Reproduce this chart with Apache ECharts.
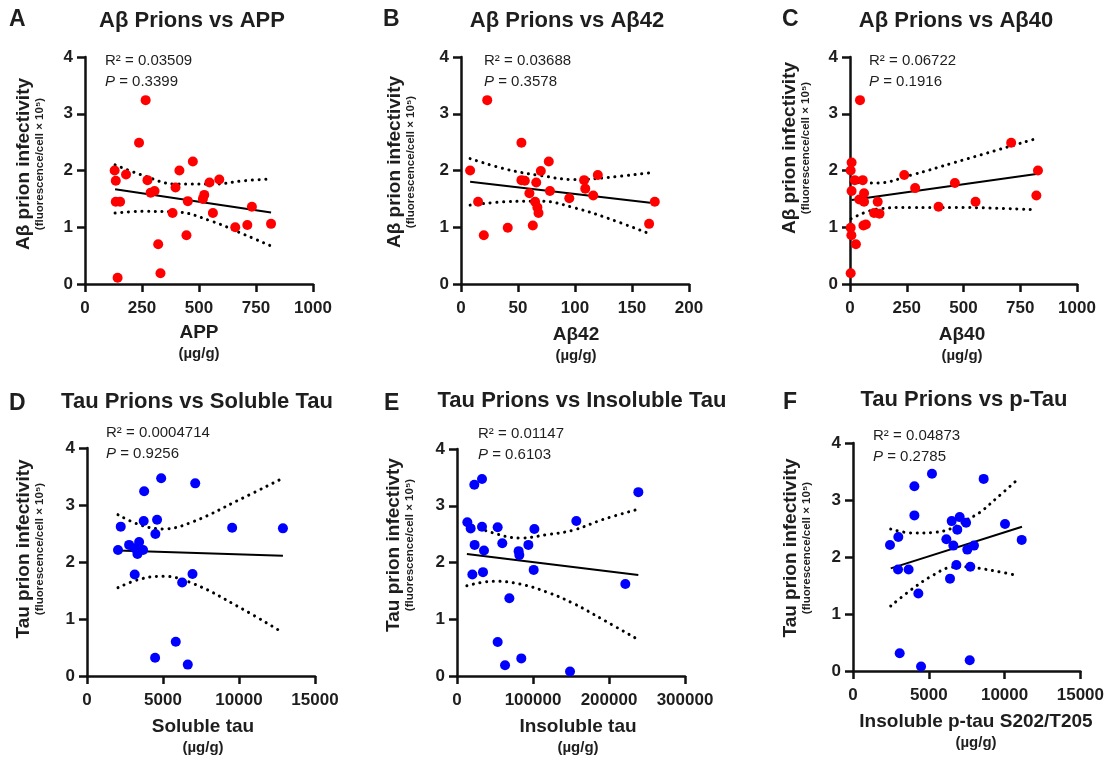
<!DOCTYPE html>
<html>
<head>
<meta charset="utf-8">
<title>Prion infectivity correlations</title>
<script src="https://cdn.jsdelivr.net/npm/echarts@6/dist/echarts.min.js"></script>
<style>
  html, body { margin: 0; padding: 0; background: #fff; }
  #chart { width: 1107px; height: 759px; }
</style>
</head>
<body>
<div id="chart"></div>
<script>
// A: Aβ prions vs APP
const appX = [266, 237, 130, 135, 180, 274, 288, 305, 414, 473, 397, 135, 154, 384, 451, 517, 523, 546, 589, 561, 659, 712, 732, 816, 445, 321, 331, 143];
const appY = [3.24, 2.49, 2.00, 1.82, 1.93, 1.83, 1.61, 1.64, 2.00, 2.16, 1.70, 1.45, 1.45, 1.25, 1.46, 1.50, 1.57, 1.79, 1.84, 1.25, 1.00, 1.04, 1.36, 1.06, 0.86, 0.70, 0.19, 0.11];
const appFitX = [132, 816];
const appFitY = [1.67, 1.26];
const appCiX = [132, 250, 400, 560, 700, 810];
const appCiUp = [2.10, 1.92, 1.76, 1.76, 1.82, 1.85];
const appCiLo = [1.25, 1.28, 1.27, 1.10, 0.87, 0.68];

// B: Aβ prions vs Aβ42
const ab42X = [23, 53, 8, 77, 70, 53, 56, 66, 60, 78, 108, 109, 120, 116, 95, 15, 65, 67, 68, 63, 41, 20, 165, 170];
const ab42Y = [3.24, 2.49, 2.00, 2.16, 1.99, 1.83, 1.82, 1.79, 1.60, 1.64, 1.83, 1.68, 1.92, 1.56, 1.51, 1.45, 1.45, 1.35, 1.25, 1.03, 0.99, 0.86, 1.06, 1.45];
const ab42FitX = [8, 166];
const ab42FitY = [1.80, 1.43];
const ab42CiX = [8, 40, 70, 100, 130, 166];
const ab42CiUp = [2.21, 2.02, 1.91, 1.84, 1.88, 1.96];
const ab42CiLo = [1.39, 1.45, 1.46, 1.34, 1.15, 0.88];

// C: Aβ prions vs Aβ40
const ab40X = [44, 710, 7, 3, 828, 21, 56, 239, 287, 462, 7, 62, 41, 62, 122, 553, 390, 821, 106, 130, 59, 70, 3, 6, 26, 3];
const ab40Y = [3.24, 2.49, 2.14, 2.00, 2.00, 1.83, 1.83, 1.92, 1.69, 1.78, 1.64, 1.60, 1.49, 1.45, 1.45, 1.45, 1.36, 1.56, 1.25, 1.24, 1.03, 1.05, 0.99, 0.86, 0.70, 0.19];
const ab40FitX = [7, 821];
const ab40FitY = [1.48, 1.94];
const ab40CiX = [5, 120, 270, 460, 810];
const ab40CiUp = [1.79, 1.78, 1.92, 2.14, 2.55];
const ab40CiLo = [1.15, 1.32, 1.35, 1.35, 1.31];

// D: Tau prions vs soluble tau
const solTauX = [4880, 7120, 3760, 3730, 4610, 4500, 2220, 9550, 12890, 2770, 3430, 2040, 3140, 3320, 3690, 3140, 6940, 6260, 5840, 4480, 6630];
const solTauY = [3.47, 3.38, 3.24, 2.72, 2.74, 2.49, 2.62, 2.60, 2.59, 2.30, 2.35, 2.21, 2.24, 2.14, 2.21, 1.78, 1.79, 1.64, 0.60, 0.32, 0.20];
const solTauFitX = [2040, 12890];
const solTauFitY = [2.20, 2.11];
const solTauCiX = [2040, 3500, 5000, 7000, 10000, 12890];
const solTauCiUp = [2.83, 2.65, 2.58, 2.71, 3.09, 3.47];
const solTauCiLo = [1.55, 1.70, 1.75, 1.62, 1.21, 0.76];

// E: Tau prions vs insoluble tau
const insTauX = [32900, 22800, 238600, 13600, 18000, 32900, 53500, 157000, 101800, 59600, 23200, 93900, 35500, 81100, 82000, 20200, 34200, 100900, 221500, 68900, 53500, 84600, 63200, 148700];
const insTauY = [3.47, 3.37, 3.24, 2.71, 2.60, 2.63, 2.62, 2.73, 2.59, 2.34, 2.31, 2.31, 2.21, 2.20, 2.13, 1.79, 1.83, 1.87, 1.62, 1.37, 0.60, 0.31, 0.19, 0.08];
const insTauFitX = [13000, 238600];
const insTauFitY = [2.15, 1.78];
const insTauCiX = [13000, 47800, 82900, 118000, 153000, 192500, 238600];
const insTauCiUp = [2.69, 2.52, 2.43, 2.49, 2.57, 2.76, 2.94];
const insTauCiLo = [1.59, 1.67, 1.62, 1.48, 1.28, 0.99, 0.64];

// F: Tau prions vs insoluble p-tau S202/T205
const pTauX = [5210, 8620, 4050, 4050, 7040, 6510, 7460, 10030, 6880, 2990, 6160, 11130, 2440, 6620, 7980, 7540, 2970, 3670, 6820, 7740, 6400, 4310, 3080, 4490, 7700];
const pTauY = [3.46, 3.37, 3.24, 2.73, 2.70, 2.63, 2.60, 2.58, 2.48, 2.35, 2.31, 2.30, 2.21, 2.20, 2.20, 2.13, 1.78, 1.78, 1.86, 1.83, 1.62, 1.36, 0.31, 0.08, 0.19];
const pTauFitX = [2490, 11150];
const pTauFitY = [1.80, 2.53];
const pTauCiX = [2490, 3960, 5280, 6490, 7480, 8360, 9460, 10780];
const pTauCiUp = [2.49, 2.42, 2.43, 2.50, 2.65, 2.78, 3.03, 3.34];
const pTauCiLo = [1.14, 1.45, 1.68, 1.82, 1.83, 1.80, 1.75, 1.68];

// axes
const xMax = [1000, 200, 1000, 15000, 300000, 15000];
const xStep = [250, 50, 250, 5000, 100000, 5000];
const yMax = 4;
const yStep = 1;

// texts
const letters = ["A", "B", "C", "D", "E", "F"];
const titles = ["Aβ Prions vs APP", "Aβ Prions vs Aβ42", "Aβ Prions vs Aβ40",
  "Tau Prions vs Soluble Tau", "Tau Prions vs Insoluble Tau", "Tau Prions vs p-Tau"];
const xNames = ["APP", "Aβ42", "Aβ40", "Soluble tau", "Insoluble tau", "Insoluble p-tau S202/T205"];
const yNames = ["Aβ prion infectivity", "Aβ prion infectivity", "Aβ prion infectivity",
  "Tau prion infectivity", "Tau prion infectivty", "Tau prion infectivity"];
const rSquared = ["0.03509", "0.03688", "0.06722", "0.0004714", "0.01147", "0.04873"];
const pValues = ["0.3399", "0.3578", "0.1916", "0.9256", "0.6103", "0.2785"];

const FONT = 'Arial, "Liberation Sans", Helvetica, sans-serif';
const INK = "#1e1e1e";

// panel geometry (pixels)
const grids = [
  { left: 85, top: 57, width: 228, height: 227 },
  { left: 461, top: 57, width: 228, height: 227 },
  { left: 850, top: 57, width: 227, height: 227 },
  { left: 87, top: 448, width: 228, height: 228 },
  { left: 457, top: 449, width: 228, height: 227 },
  { left: 853, top: 443, width: 228, height: 228 },
];
const letterPos = [[9, 20], [383, 20], [782, 20], [9, 404], [384, 404], [783, 403]];
const titlePos = [[192, 21], [567, 21], [956, 21], [197, 402], [582, 401], [964, 400]];
const statPos = [[105, 61], [484, 61], [869, 61], [106, 433], [478, 434], [873, 436]];
const yNamePos = [[24, 164], [395, 162], [790, 148], [24, 549], [394, 545], [791, 548]];
const xNamePos = [[199, 333], [576, 335], [962, 335], [203, 727], [578, 727], [976, 722]];

const panels = [
  { x: appX, y: appY, fx: appFitX, fy: appFitY, cx: appCiX, cu: appCiUp, cl: appCiLo, color: "#ff0000" },
  { x: ab42X, y: ab42Y, fx: ab42FitX, fy: ab42FitY, cx: ab42CiX, cu: ab42CiUp, cl: ab42CiLo, color: "#ff0000" },
  { x: ab40X, y: ab40Y, fx: ab40FitX, fy: ab40FitY, cx: ab40CiX, cu: ab40CiUp, cl: ab40CiLo, color: "#ff0000" },
  { x: solTauX, y: solTauY, fx: solTauFitX, fy: solTauFitY, cx: solTauCiX, cu: solTauCiUp, cl: solTauCiLo, color: "#0000ff" },
  { x: insTauX, y: insTauY, fx: insTauFitX, fy: insTauFitY, cx: insTauCiX, cu: insTauCiUp, cl: insTauCiLo, color: "#0000ff" },
  { x: pTauX, y: pTauY, fx: pTauFitX, fy: pTauFitY, cx: pTauCiX, cu: pTauCiUp, cl: pTauCiLo, color: "#0000ff" },
];

const zip = (a, b) => a.map((v, i) => [v, b[i]]);

const axisLine = { lineStyle: { color: "#111", width: 2.5 } };
const axisTick = { length: 8, lineStyle: { color: "#111", width: 2.5 } };
const tickFont = { color: INK, fontFamily: FONT, fontWeight: "bold", fontSize: 17 };

const xAxis = xMax.map((m, i) => ({
  type: "value", gridIndex: i, min: 0, max: m, interval: xStep[i],
  axisLine: { ...axisLine, onZero: false }, axisTick,
  splitLine: { show: false },
  axisLabel: { ...tickFont, margin: 16, formatter: (v) => String(v) },
}));
const yAxis = grids.map((g, i) => ({
  type: "value", gridIndex: i, min: 0, max: yMax, interval: yStep,
  axisLine: { ...axisLine, onZero: false }, axisTick,
  splitLine: { show: false },
  axisLabel: { ...tickFont, margin: 12 },
}));

const series = [];
panels.forEach((p, i) => {
  const dotted = { color: "#000", width: 3, type: [0.1, 6.6], cap: "round" };
  series.push({
    type: "line", xAxisIndex: i, yAxisIndex: i, data: zip(p.cx, p.cu),
    smooth: 0.4, symbol: "none", lineStyle: dotted, silent: true, z: 2,
  });
  series.push({
    type: "line", xAxisIndex: i, yAxisIndex: i, data: zip(p.cx, p.cl),
    smooth: 0.4, symbol: "none", lineStyle: dotted, silent: true, z: 2,
  });
  series.push({
    type: "line", xAxisIndex: i, yAxisIndex: i, data: zip(p.fx, p.fy),
    symbol: "none", lineStyle: { color: "#000", width: 2 }, silent: true, z: 3,
  });
  series.push({
    type: "scatter", xAxisIndex: i, yAxisIndex: i, data: zip(p.x, p.y),
    symbolSize: 10, itemStyle: { color: p.color, opacity: 1 }, z: 4,
  });
});

function txt(x, y, text, font, align, extra) {
  return Object.assign({
    type: "text", x: x, y: y, silent: true,
    style: {
      text: text, font: font, fill: INK,
      align: align, textAlign: align,
      verticalAlign: "middle", textVerticalAlign: "middle",
    },
  }, extra || {});
}

const graphic = [];
grids.forEach((g, i) => {
  graphic.push(txt(letterPos[i][0], letterPos[i][1], letters[i], "bold 23px " + FONT, "left", {}));
  graphic.push(txt(titlePos[i][0], titlePos[i][1], titles[i], "bold 22px " + FONT, "center", {}));
  graphic.push(txt(statPos[i][0], statPos[i][1], "R² = " + rSquared[i], "15px " + FONT, "left", {}));
  graphic.push({
    type: "text", x: statPos[i][0], y: statPos[i][1] + 21, silent: true,
    style: {
      text: "{i|P}{n| = " + pValues[i] + "}",
      align: "left", textAlign: "left", verticalAlign: "middle", textVerticalAlign: "middle",
      font: "15px " + FONT, fill: INK,
      rich: {
        i: { fontStyle: "italic", fontSize: 15, fontFamily: FONT, fill: INK, color: INK },
        n: { fontSize: 15, fontFamily: FONT, fill: INK, color: INK },
      },
    },
  });
  graphic.push(txt(yNamePos[i][0], yNamePos[i][1], yNames[i], "bold 19px " + FONT, "center", { rotation: Math.PI / 2 }));
  graphic.push(txt(yNamePos[i][0] + 16, yNamePos[i][1], "(fluorescence/cell × 10⁵)", "bold 11.5px " + FONT, "center", { rotation: Math.PI / 2 }));
  graphic.push(txt(xNamePos[i][0], xNamePos[i][1], xNames[i], "bold 19px " + FONT, "center", {}));
  graphic.push(txt(xNamePos[i][0], xNamePos[i][1] + 21, "(µg/g)", "bold 15px " + FONT, "center", {}));
});

const chart = echarts.init(document.getElementById("chart"));
chart.setOption({
  animation: false,
  backgroundColor: "#fff",
  grid: grids.map((g) => ({ ...g, containLabel: false })),
  xAxis: xAxis,
  yAxis: yAxis,
  series: series,
  graphic: graphic,
});
</script>
</body>
</html>
